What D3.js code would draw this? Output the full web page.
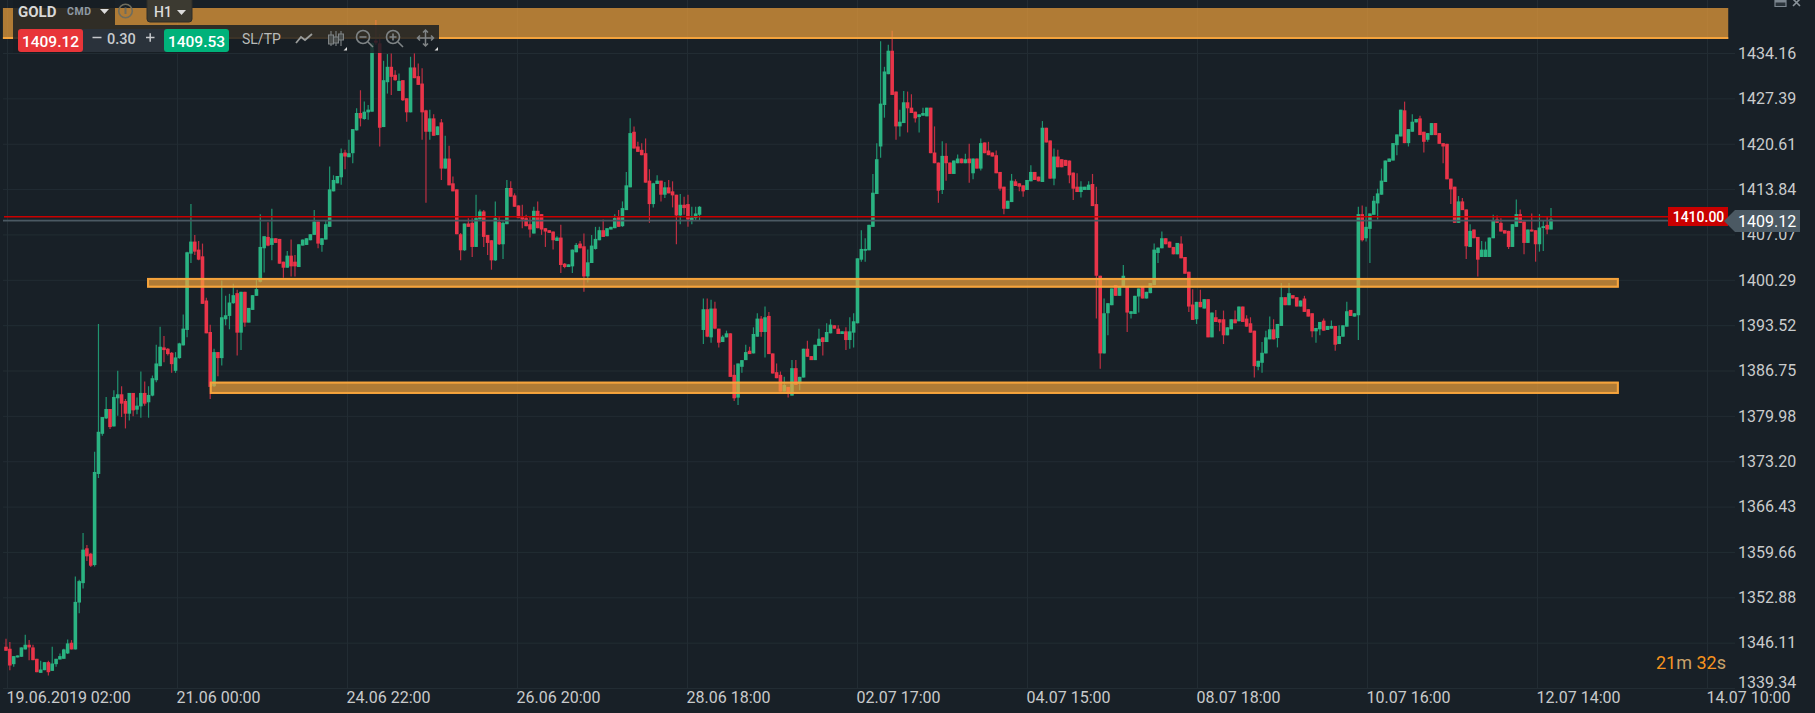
<!DOCTYPE html>
<html>
<head>
<meta charset="utf-8">
<title>GOLD H1</title>
<script src="https://cdn.jsdelivr.net/npm/d3@7/dist/d3.min.js"></script>
<style>
html,body{margin:0;padding:0;background:#182027;overflow:hidden}
svg{display:block;font-family:Roboto,"Liberation Sans",sans-serif}
</style>
</head>
<body>
<div id="chart"></div>
<script>
const priceTicks = [1434.16,1427.39,1420.61,1413.84,1407.07,1400.29,1393.52,1386.75,1379.98,1373.20,1366.43,1359.66,1352.88,1346.11,1339.34];
const timeTicks = ["19.06.2019 02:00","21.06 00:00","24.06 22:00","26.06 20:00","28.06 18:00","02.07 17:00","04.07 15:00","08.07 18:00","10.07 16:00","12.07 14:00","14.07 10:00"];
const opens = [
1345.5,1345.2,1342.9,1343.9,1344.0,1345.1,1345.8,1345.4,1343.7,1341.6,
1342.0,1343.2,1341.9,1342.9,1343.6,1343.7,1344.5,1346.1,1345.1,1352.1,
1355.0,1360.2,1359.4,1357.7,1371.3,1377.3,1379.6,1381.0,1378.4,1382.6,
1383.2,1382.2,1380.3,1383.4,1380.9,1381.4,1383.4,1382.0,1383.0,1385.3,
1387.4,1390.2,1390.0,1389.4,1386.7,1388.6,1390.5,1392.8,1404.2,1406.0,
1404.8,1403.8,1397.2,1392.5,1384.4,1389.5,1388.6,1394.4,1394.9,1396.8,
1398.3,1392.4,1398.5,1393.9,1395.8,1397.9,1400.0,1405.0,1406.7,1405.5,
1406.5,1406.4,1403.0,1402.1,1403.9,1403.0,1402.2,1405.4,1405.5,1406.2,
1407.0,1409.0,1405.5,1406.3,1408.2,1413.5,1414.7,1415.6,1419.3,1418.6,
1419.2,1422.6,1425.2,1424.3,1425.3,1425.4,1436.0,1435.6,1423.1,1429.8,
1432.1,1430.9,1428.5,1430.1,1427.4,1425.3,1432.0,1430.7,1429.6,1425.6,
1422.4,1424.4,1421.9,1423.8,1416.9,1418.4,1414.7,1413.8,1407.1,1404.7,
1408.7,1408.8,1405.2,1409.3,1410.5,1407.0,1406.2,1403.2,1408.9,1405.6,
1408.6,1414.0,1412.9,1411.4,1409.7,1409.5,1408.6,1407.2,1410.6,1410.1,
1408.0,1407.7,1407.5,1406.1,1406.6,1402.7,1402.2,1402.3,1404.4,1405.7,
1405.3,1400.8,1402.8,1404.9,1406.2,1407.7,1406.8,1407.8,1408.0,1409.7,
1408.3,1410.7,1414.1,1422.4,1420.2,1419.7,1419.2,1415.1,1411.6,1414.6,
1415.1,1413.0,1414.1,1413.5,1413.0,1409.9,1411.5,1411.6,1409.2,1409.5,
1410.0,1392.8,1395.9,1391.7,1396.0,1393.0,1391.0,1391.7,1392.3,1386.1,
1382.7,1387.3,1388.3,1389.7,1389.3,1391.8,1394.5,1392.5,1394.9,1389.3,
1386.5,1386.1,1383.6,1384.3,1383.0,1387.1,1384.8,1385.7,1390.0,1388.9,
1388.3,1390.4,1391.7,1391.0,1392.3,1393.5,1393.0,1392.2,1392.6,1391.3,
1392.4,1393.8,1403.3,1404.7,1404.7,1408.2,1413.1,1420.2,1426.4,1431.0,
1434.5,1428.4,1423.2,1423.7,1426.8,1426.0,1425.4,1424.6,1424.8,1424.7,
1426.0,1419.3,1417.8,1413.7,1418.8,1417.8,1416.1,1417.7,1418.4,1417.7,
1418.4,1416.2,1418.4,1416.9,1420.8,1419.6,1419.3,1418.9,1416.4,1414.2,
1410.9,1411.9,1415.0,1414.7,1414.4,1413.7,1415.0,1416.4,1415.7,1414.9,
1423.0,1421.1,1415.4,1418.7,1418.3,1418.2,1418.1,1416.3,1414.2,1413.4,
1413.7,1413.7,1414.6,1411.6,1400.9,1389.3,1395.3,1396.5,1399.5,1397.9,
1399.3,1399.3,1395.2,1395.2,1397.8,1399.3,1397.5,1398.3,1399.5,1404.3,
1405.0,1406.5,1406.0,1405.2,1404.1,1405.7,1403.7,1401.5,1396.6,1394.4,
1397.0,1396.0,1397.4,1391.7,1394.7,1394.4,1394.4,1392.0,1392.9,1394.4,
1394.1,1396.3,1394.5,1393.8,1392.7,1387.3,1387.9,1389.3,1391.4,1392.9,
1391.6,1393.4,1397.7,1396.5,1398.0,1397.7,1396.3,1397.5,1395.9,1395.3,
1392.6,1392.9,1394.2,1392.8,1393.0,1393.4,1390.7,1391.8,1393.3,1395.8,
1394.8,1395.0,1410.1,1406.5,1407.9,1410.0,1411.7,1413.0,1414.9,1417.9,
1418.1,1420.4,1421.7,1425.6,1420.7,1422.4,1423.8,1424.4,1422.4,1421.2,
1421.9,1423.7,1422.2,1420.7,1420.6,1415.4,1414.2,1408.8,1412.0,1410.8,
1405.2,1407.8,1406.7,1403.7,1403.7,1403.7,1406.5,1409.3,1408.8,1407.7,
1407.6,1405.2,1408.2,1410.1,1409.0,1405.8,1407.8,1407.7,1405.6,1408.1,
1408.5,1407.8];
const closes = [
1344.9,1342.7,1344.1,1344.2,1345.4,1345.8,1345.4,1343.5,1341.7,1342.1,
1343.2,1341.7,1343.0,1343.7,1344.1,1345.1,1346.0,1345.1,1352.2,1355.3,
1360.0,1359.0,1357.6,1371.6,1377.6,1379.8,1381.0,1378.3,1382.8,1383.2,
1381.8,1380.3,1383.4,1380.8,1381.5,1383.4,1381.8,1383.1,1385.6,1387.8,
1390.3,1389.8,1389.2,1387.7,1388.7,1390.8,1393.0,1404.4,1406.0,1404.5,
1403.3,1396.7,1392.3,1384.3,1389.5,1388.6,1394.7,1395.0,1396.9,1398.0,
1392.4,1398.5,1393.9,1396.1,1398.0,1398.9,1405.2,1406.8,1405.4,1406.5,
1405.8,1402.7,1402.1,1403.9,1402.3,1402.3,1405.6,1406.3,1406.5,1407.1,
1409.0,1405.7,1406.5,1408.6,1413.8,1415.2,1415.8,1419.2,1418.7,1419.2,
1422.8,1425.2,1424.4,1425.4,1425.7,1435.6,1435.7,1423.0,1430.1,1432.1,
1430.6,1430.1,1430.0,1427.1,1425.3,1432.0,1430.4,1429.4,1425.3,1422.4,
1424.4,1421.8,1423.2,1416.9,1418.4,1414.4,1413.5,1407.1,1404.7,1408.7,
1408.2,1405.2,1409.5,1410.5,1406.7,1405.8,1403.2,1409.5,1405.6,1408.8,
1414.0,1412.7,1411.2,1409.5,1409.3,1408.3,1407.8,1410.6,1408.0,1407.8,
1407.5,1407.3,1406.2,1406.6,1402.5,1402.2,1402.6,1404.8,1405.5,1405.0,
1400.8,1402.9,1405.4,1406.4,1407.7,1406.7,1408.0,1408.2,1409.5,1408.2,
1411.0,1414.4,1422.2,1419.9,1419.4,1418.9,1414.8,1411.6,1414.7,1415.1,
1413.0,1414.1,1413.2,1412.9,1409.9,1411.5,1411.0,1409.3,1409.6,1410.2,
1411.2,1395.9,1391.8,1396.0,1393.0,1390.9,1391.8,1392.3,1385.8,1382.6,
1387.8,1388.3,1389.5,1389.2,1392.2,1394.5,1392.5,1394.7,1389.2,1386.3,
1385.6,1383.6,1384.6,1383.3,1387.1,1384.6,1385.8,1390.0,1388.8,1388.3,
1390.6,1391.5,1391.0,1392.5,1393.6,1393.0,1392.2,1392.6,1391.3,1392.6,
1394.1,1403.5,1404.9,1404.9,1408.5,1413.3,1418.3,1426.6,1431.4,1434.5,
1427.9,1423.2,1423.9,1426.8,1425.9,1425.2,1424.4,1425.0,1425.2,1426.0,
1419.2,1417.7,1413.6,1418.8,1417.7,1416.1,1418.1,1418.4,1417.7,1418.3,
1417.7,1418.4,1416.9,1420.7,1419.2,1418.9,1418.7,1416.2,1413.9,1410.9,
1412.1,1415.1,1414.3,1414.2,1413.5,1415.2,1416.4,1415.2,1415.0,1423.0,
1420.8,1415.4,1418.7,1417.1,1417.1,1417.3,1415.9,1413.9,1413.4,1414.2,
1414.2,1414.5,1411.3,1400.9,1389.3,1395.3,1396.8,1399.0,1397.9,1399.3,
1400.9,1395.4,1395.6,1397.9,1399.0,1397.5,1398.5,1399.8,1404.8,1405.1,
1406.5,1405.6,1405.1,1404.1,1405.8,1403.5,1401.2,1396.3,1394.3,1397.0,
1396.2,1397.4,1391.7,1395.4,1394.0,1393.9,1392.0,1393.2,1394.4,1393.8,
1396.3,1394.0,1393.3,1392.4,1387.4,1388.2,1389.4,1391.7,1392.9,1391.4,
1393.7,1397.7,1396.5,1398.3,1397.5,1396.3,1397.2,1395.5,1394.8,1392.6,
1393.1,1394.0,1392.7,1393.4,1393.4,1390.6,1391.9,1393.5,1395.6,1394.9,
1395.3,1410.1,1406.2,1408.2,1410.2,1412.1,1413.2,1415.1,1418.1,1418.4,
1420.7,1422.0,1425.7,1420.7,1422.8,1423.9,1424.3,1421.9,1420.9,1422.2,
1423.7,1421.9,1420.6,1420.2,1415.3,1413.8,1408.8,1412.0,1410.7,1405.3,
1407.6,1406.5,1403.3,1404.8,1404.8,1406.6,1409.2,1408.8,1407.5,1407.2,
1405.2,1408.6,1410.1,1408.8,1405.8,1407.8,1407.5,1405.6,1408.1,1408.3,
1407.8,1409.3];
const highs = [
1346.7,1346.2,1344.1,1344.2,1345.4,1347.3,1346.5,1345.8,1343.7,1343.4,
1343.2,1343.4,1345.5,1343.7,1344.5,1345.2,1346.6,1346.5,1356.0,1355.5,
1362.5,1360.7,1359.5,1374.6,1393.7,1379.8,1382.8,1381.0,1383.8,1386.7,
1384.4,1382.5,1383.4,1383.4,1382.7,1386.6,1385.1,1384.4,1386.0,1390.6,
1393.3,1391.9,1390.1,1389.5,1389.5,1390.9,1395.1,1404.5,1411.6,1407.0,
1406.1,1405.7,1397.6,1393.6,1390.0,1389.5,1400.2,1397.9,1398.2,1399.7,
1398.8,1398.5,1398.5,1396.1,1398.0,1400.3,1410.1,1406.8,1408.9,1410.9,
1406.5,1406.4,1403.0,1404.6,1406.3,1404.0,1405.6,1406.3,1406.5,1407.1,
1410.7,1409.0,1406.5,1409.2,1417.2,1415.9,1415.8,1419.9,1419.7,1421.2,
1422.8,1425.9,1428.6,1426.9,1426.4,1435.7,1439.1,1437.0,1433.0,1434.0,
1434.1,1431.6,1431.1,1430.1,1427.4,1433.6,1434.1,1432.6,1431.9,1425.7,
1425.7,1425.0,1423.2,1424.3,1421.8,1420.3,1415.7,1413.8,1407.3,1408.7,
1409.5,1409.5,1413.0,1410.8,1410.7,1407.0,1406.2,1412.0,1409.7,1409.0,
1415.2,1415.0,1413.2,1411.4,1411.5,1410.0,1409.7,1411.2,1412.0,1410.1,
1408.0,1407.7,1407.5,1406.8,1408.5,1402.8,1402.6,1404.8,1405.8,1406.1,
1407.2,1404.8,1407.0,1408.2,1408.2,1409.3,1408.0,1408.2,1410.1,1410.7,
1412.0,1416.4,1424.4,1423.2,1420.9,1420.7,1421.4,1416.8,1414.8,1415.9,
1415.1,1414.9,1415.2,1415.0,1413.0,1413.1,1412.7,1413.0,1411.2,1411.2,
1411.3,1397.5,1397.5,1397.3,1397.0,1393.0,1392.0,1392.7,1392.3,1387.6,
1387.8,1388.3,1390.6,1390.3,1393.2,1395.3,1394.9,1396.3,1395.5,1389.3,
1387.8,1386.6,1385.8,1384.3,1388.3,1388.3,1385.8,1390.0,1391.2,1388.9,
1390.6,1393.0,1391.7,1393.8,1394.4,1393.5,1393.5,1392.6,1393.2,1394.7,
1395.3,1403.5,1407.7,1406.5,1408.5,1416.1,1420.7,1435.9,1432.1,1435.4,
1437.5,1428.4,1425.7,1428.5,1428.4,1428.0,1425.4,1425.0,1426.0,1426.0,
1426.0,1423.2,1417.8,1421.0,1420.7,1417.8,1418.1,1419.0,1418.4,1419.1,
1420.6,1418.4,1418.4,1421.4,1420.8,1420.9,1419.3,1419.6,1416.4,1414.2,
1412.1,1416.1,1415.3,1414.7,1414.4,1415.2,1417.4,1416.4,1415.7,1424.0,
1423.0,1421.1,1419.9,1419.7,1418.3,1418.2,1418.1,1416.3,1416.2,1415.0,
1414.2,1415.0,1416.1,1414.2,1400.9,1397.5,1396.8,1399.0,1399.5,1399.3,
1402.5,1399.3,1395.6,1397.9,1399.0,1399.3,1398.5,1399.8,1405.7,1405.1,
1407.5,1406.5,1406.0,1405.2,1405.8,1406.8,1403.7,1401.5,1398.9,1397.0,
1398.8,1397.4,1397.4,1395.4,1395.8,1394.4,1395.7,1393.2,1394.4,1395.7,
1396.3,1396.3,1395.0,1394.7,1392.7,1388.2,1391.0,1392.7,1394.8,1394.4,
1393.7,1399.8,1397.7,1399.8,1398.0,1397.7,1397.2,1397.9,1395.9,1395.3,
1393.1,1394.0,1394.5,1393.4,1394.2,1393.4,1393.5,1393.5,1397.0,1395.8,
1395.3,1411.2,1411.4,1411.2,1410.2,1412.8,1413.9,1416.9,1418.1,1418.4,
1420.7,1422.0,1425.7,1426.9,1422.8,1425.0,1424.3,1424.8,1422.4,1422.2,
1423.7,1423.7,1422.2,1420.7,1420.6,1415.4,1414.2,1412.8,1412.5,1410.8,
1408.6,1407.8,1406.7,1406.1,1406.0,1406.6,1410.0,1409.9,1409.5,1407.7,
1407.6,1408.6,1412.3,1410.8,1409.0,1407.8,1410.2,1407.7,1410.1,1409.2,
1409.7,1411.0];
const lows = [
1344.9,1342.0,1342.5,1343.9,1344.0,1345.1,1343.5,1343.5,1341.7,1341.6,
1342.0,1341.2,1341.9,1342.5,1343.6,1343.7,1344.4,1345.1,1345.1,1350.5,
1354.2,1358.3,1357.4,1357.5,1370.7,1377.0,1379.5,1378.0,1378.4,1380.0,
1379.8,1378.1,1379.3,1379.9,1380.2,1379.7,1381.5,1379.7,1382.9,1385.0,
1387.4,1388.0,1389.0,1386.4,1386.4,1388.5,1390.5,1391.7,1402.8,1404.0,
1403.2,1396.7,1392.3,1382.5,1384.3,1385.9,1387.5,1393.5,1392.9,1396.7,
1389.0,1389.8,1393.3,1393.9,1395.8,1397.9,1399.9,1401.4,1405.3,1403.2,
1405.8,1402.7,1400.6,1402.1,1400.8,1400.8,1402.2,1405.4,1405.5,1406.2,
1407.0,1405.0,1404.5,1406.3,1408.2,1413.5,1414.7,1414.5,1416.8,1418.6,
1417.7,1422.6,1423.2,1424.2,1424.2,1425.4,1435.4,1420.2,1423.1,1428.1,
1427.9,1430.0,1428.5,1427.0,1423.9,1425.3,1430.4,1429.4,1421.2,1411.8,
1421.2,1421.8,1421.9,1415.2,1416.9,1414.4,1413.5,1407.1,1403.2,1404.6,
1408.2,1403.7,1405.2,1409.3,1405.2,1404.0,1401.8,1403.1,1405.5,1403.4,
1408.6,1412.7,1411.2,1409.5,1408.0,1408.3,1406.6,1407.2,1408.0,1407.0,
1405.2,1407.3,1404.8,1406.1,1401.3,1402.0,1402.2,1401.3,1404.4,1405.0,
1398.5,1399.9,1402.8,1404.8,1406.2,1406.7,1406.8,1407.8,1408.0,1408.2,
1408.2,1410.7,1414.1,1419.9,1419.4,1418.9,1414.8,1408.8,1411.1,1414.6,
1412.0,1412.5,1413.2,1411.1,1405.6,1408.6,1410.0,1408.2,1408.6,1409.2,
1409.2,1390.7,1391.7,1390.9,1392.9,1390.2,1391.0,1391.7,1385.8,1382.2,
1381.6,1386.4,1388.3,1389.2,1389.3,1391.8,1391.8,1388.7,1389.2,1386.3,
1385.6,1383.6,1383.6,1382.7,1383.0,1384.6,1383.8,1385.7,1388.8,1388.3,
1388.3,1390.4,1389.0,1391.0,1392.3,1393.0,1392.2,1392.2,1389.8,1390.0,
1390.2,1393.8,1403.0,1403.0,1404.7,1408.2,1413.1,1418.5,1424.5,1431.0,
1427.9,1421.2,1421.7,1423.7,1422.3,1425.2,1423.8,1422.3,1424.8,1424.7,
1419.2,1417.7,1411.8,1413.1,1415.1,1416.1,1416.1,1417.7,1417.7,1417.7,
1414.8,1415.3,1416.9,1416.6,1419.2,1418.9,1418.7,1416.2,1413.6,1410.1,
1410.9,1411.9,1414.3,1413.5,1412.7,1413.7,1415.0,1415.2,1415.0,1414.9,
1420.8,1415.4,1414.4,1417.1,1417.1,1417.3,1414.7,1412.2,1413.4,1412.6,
1413.7,1413.7,1411.3,1394.5,1387.0,1389.3,1392.0,1396.5,1397.9,1397.9,
1399.3,1392.5,1394.5,1395.2,1395.4,1397.5,1397.5,1398.3,1399.5,1402.8,
1405.0,1405.6,1405.1,1404.1,1404.1,1403.5,1401.2,1395.5,1394.3,1393.7,
1396.2,1396.0,1391.7,1391.7,1394.0,1392.6,1390.7,1392.0,1392.9,1393.8,
1394.1,1394.0,1393.3,1392.4,1385.7,1386.8,1386.4,1389.3,1391.4,1391.4,
1390.2,1393.4,1396.5,1396.5,1397.5,1396.3,1396.3,1395.5,1394.8,1391.7,
1390.9,1392.0,1392.7,1392.8,1393.0,1389.7,1390.7,1391.8,1393.3,1394.9,
1394.8,1391.3,1406.0,1406.0,1402.8,1410.0,1409.3,1413.0,1414.9,1417.9,
1418.1,1418.9,1421.7,1420.7,1420.2,1422.4,1423.8,1421.9,1419.3,1420.9,
1421.9,1421.9,1420.6,1417.7,1415.3,1411.6,1408.8,1408.8,1410.7,1403.4,
1405.2,1406.5,1400.8,1403.7,1403.7,1403.7,1406.5,1408.8,1407.5,1407.2,
1404.9,1405.2,1408.2,1408.8,1404.1,1405.8,1407.5,1403.0,1404.5,1404.6,
1407.1,1407.8];
// Supply / demand zones: first bar, last bar, upper price, lower price
const zoneFirstBar = [-0.8, 36.6, 52.9];
const zoneLastBar  = [447, 418.6, 418.6];
const zoneUpper    = [1440.88, 1400.57, 1385.08];
const zoneLower    = [1436.25, 1399.12, 1383.25];
const alertPrice = 1409.71, alertLabel = "1410.00";
const bidPrice = 1409.12, bidLabel = "1409.12", askLabel = "1409.53", spreadLabel = "0.30";

const W = 1815, H = 713;
const svg = d3.select("#chart").append("svg").attr("width", W).attr("height", H);
svg.append("rect").attr("width", W).attr("height", H).attr("fill", "#182027");

const x = d3.scaleLinear().domain([0, opens.length - 1]).range([6, 1551]);
const y = d3.scaleLinear().domain([1434.16, 1339.34]).range([53, 688]);
const t = d3.scalePoint().domain(timeTicks).range([7, 1707]);

// grid + axes
const GRID = "#222c33";
const yAxis = svg.append("g").attr("transform", "translate(1735,0)")
  .call(d3.axisLeft(y).tickValues(priceTicks).tickSize(1732).tickFormat(""));
yAxis.select(".domain").remove();
yAxis.selectAll("line").attr("stroke", GRID).attr("stroke-width", 1);
const xAxis = svg.append("g").attr("transform", "translate(0,688)")
  .call(d3.axisBottom(t).tickSize(-688).tickFormat(""));
xAxis.select(".domain").remove();
xAxis.selectAll("line").attr("stroke", GRID).attr("stroke-width", 1);

// candles
const bars = d3.range(opens.length).map(i => ({i, o: opens[i], h: highs[i], l: lows[i], c: closes[i]}));
const UP = "#2ab382", DOWN = "#e93449", UPW = "#1f9470", DOWNW = "#bd2f42";
const cg = svg.append("g");
cg.selectAll("line").data(bars).join("line")
  .attr("x1", d => x(d.i)).attr("x2", d => x(d.i))
  .attr("y1", d => y(d.h)).attr("y2", d => y(d.l))
  .attr("stroke", d => d.c >= d.o ? UPW : DOWNW).attr("stroke-width", 1.2);
cg.selectAll("rect").data(bars).join("rect")
  .attr("x", d => x(d.i) - 1.8).attr("width", 3.6)
  .attr("y", d => y(Math.max(d.o, d.c)))
  .attr("height", d => Math.max(1.8, Math.abs(y(d.o) - y(d.c))))
  .attr("fill", d => d.c >= d.o ? UP : DOWN);

// level lines
svg.append("line").attr("x1", 4).attr("x2", 1668).attr("y1", y(alertPrice)).attr("y2", y(alertPrice))
  .attr("stroke", "#c90000").attr("stroke-width", 1.5);
svg.append("line").attr("x1", 3).attr("x2", 1726).attr("y1", y(bidPrice)).attr("y2", y(bidPrice))
  .attr("stroke", "#4b5963").attr("stroke-width", 1.8);

// zones
const zones = d3.range(zoneUpper.length).map(i => ({a: zoneFirstBar[i], b: zoneLastBar[i], u: zoneUpper[i], l: zoneLower[i], i}));
const zg = svg.append("g");
zg.selectAll("rect.f").data(zones).join("rect").attr("class", "f")
  .attr("x", d => x(d.a)).attr("width", d => x(d.b) - x(d.a))
  .attr("y", d => y(d.u)).attr("height", d => y(d.l) - y(d.u))
  .attr("fill", "#f5a33c").attr("fill-opacity", .69);
zg.selectAll("rect.s").data(zones.filter(d => d.i > 0)).join("rect").attr("class", "s")
  .attr("x", d => x(d.a) + 1).attr("width", d => x(d.b) - x(d.a) - 2)
  .attr("y", d => y(d.u) + 1).attr("height", d => y(d.l) - y(d.u) - 2)
  .attr("fill", "none").attr("stroke", "#f5a33c").attr("stroke-width", 2);
zg.selectAll("line").data(zones.filter(d => d.i === 0)).join("line")
  .attr("x1", d => x(d.a)).attr("x2", d => x(d.b))
  .attr("y1", d => y(d.l) - 1).attr("y2", d => y(d.l) - 1)
  .attr("stroke", "#f5a33c").attr("stroke-width", 2);

// axis labels
const LABEL = "#c9cbcc";
svg.append("g").selectAll("text").data(priceTicks).join("text")
  .attr("x", 1738).attr("y", (d, i) => y(d) + (i === priceTicks.length - 1 ? -5.5 : 0))
  .attr("dy", "0.36em").attr("font-size", 16).attr("fill", LABEL)
  .text(d => d.toFixed(2));
svg.append("g").selectAll("text").data(timeTicks).join("text")
  .attr("x", d => t(d) - 0.5).attr("y", 697).attr("dy", "0.36em")
  .attr("font-size", 16).attr("fill", LABEL).text(d => d);

// alert + bid tags
svg.append("rect").attr("x", 1668).attr("y", 207).attr("width", 60).attr("height", 19).attr("fill", "#c90000");
svg.append("text").attr("x", 1698.5).attr("y", 216.5).attr("dy", "0.36em").attr("text-anchor", "middle")
  .attr("font-size", 14).attr("font-weight", 500).attr("fill", "#fff").text(alertLabel);
svg.append("path").attr("d", "M1724,221L1735,210H1800V232H1735Z").attr("fill", "#4b5963");
svg.append("text").attr("x", 1738).attr("y", 221).attr("dy", "0.36em")
  .attr("font-size", 16).attr("fill", "#fff").text(bidLabel);

// countdown
const cd = svg.append("text").attr("x", 1656).attr("y", 663).attr("dy", "0.36em").attr("font-size", 18);
[["21", "#f7931e"], ["m ", "#c9a26a"], ["32", "#f7931e"], ["s", "#c9a26a"]].forEach(p => cd.append("tspan").attr("fill", p[1]).text(p[0]));

// window buttons
svg.append("path").attr("d", "M1775,0H1786V6.5H1775Z").attr("fill", "#2a333a").attr("stroke", "#7c868f").attr("stroke-width", 1.2);
svg.append("rect").attr("x", 1775).attr("y", 0).attr("width", 11).attr("height", 2.5).attr("fill", "#7c868f");
svg.append("path").attr("d", "M1793,-1L1800,6M1800,-1L1793,6").attr("stroke", "#8a939a").attr("stroke-width", 1.6).attr("fill", "none");

// toolbar
const tb = svg.append("g");
const PANEL = "rgba(24,30,36,.84)";
tb.append("rect").attr("x", 13).attr("y", 0).attr("width", 102).attr("height", 25).attr("fill", PANEL);
tb.append("rect").attr("x", 13).attr("y", 25).attr("width", 426).attr("height", 28).attr("fill", PANEL);
tb.append("text").attr("x", 18).attr("y", 11.5).attr("dy", "0.36em").attr("font-size", 15).attr("font-weight", 700).attr("fill", "#d8d8d8").text("GOLD");
tb.append("text").attr("x", 67).attr("y", 11).attr("dy", "0.36em").attr("font-size", 10.5).attr("font-weight", 700).attr("letter-spacing", .6).attr("fill", "#8e9aa5").text("CMD");
tb.append("path").attr("d", "M100,9H109L104.5,14Z").attr("fill", "#dcdcdc");
tb.append("circle").attr("cx", 125.5).attr("cy", 11).attr("r", 6.8).attr("fill", "none").attr("stroke", "#6f6d5e").attr("stroke-width", 1.6);
tb.append("path").attr("d", "M125.5,7.5V14").attr("stroke", "#6f6d5e").attr("stroke-width", 2);
tb.append("rect").attr("x", 147).attr("y", -3).attr("width", 45).attr("height", 25).attr("rx", 3).attr("fill", "#3c3a31").attr("stroke", "#2c2c29");
tb.append("text").attr("x", 154).attr("y", 12).attr("dy", "0.36em").attr("font-size", 14).attr("font-weight", 500).attr("fill", "#dcdcdc").text("H1");
tb.append("path").attr("d", "M177,10H186L181.5,15Z").attr("fill", "#dcdcdc");

tb.append("rect").attr("x", 80).attr("y", 29).attr("width", 88).attr("height", 23).attr("fill", "#2a323b");
tb.append("rect").attr("x", 18).attr("y", 29).attr("width", 65).attr("height", 23).attr("rx", 3).attr("fill", "#e83539");
tb.append("rect").attr("x", 164).attr("y", 29).attr("width", 65).attr("height", 23).attr("rx", 3).attr("fill", "#00b27a");
tb.append("text").attr("x", 50.5).attr("y", 41).attr("dy", "0.36em").attr("text-anchor", "middle").attr("font-size", 15.5).attr("font-weight", 500).attr("fill", "#fff").text(bidLabel);
tb.append("text").attr("x", 196.5).attr("y", 41).attr("dy", "0.36em").attr("text-anchor", "middle").attr("font-size", 15.5).attr("font-weight", 500).attr("fill", "#fff").text(askLabel);
tb.append("path").attr("d", "M92.5,37.5H101.5M146,37.5H154.5M150.2,33.2V41.8").attr("stroke", "#c5c8cc").attr("stroke-width", 1.5).attr("fill", "none");
tb.append("text").attr("x", 107).attr("y", 38.5).attr("dy", "0.36em").attr("font-size", 14.5).attr("font-weight", 500).attr("fill", "#c8cbce").text(spreadLabel);
tb.append("text").attr("x", 242).attr("y", 38.5).attr("dy", "0.36em").attr("font-size", 14).attr("fill", "#b9bbb9").text("SL/TP");
const ICON = "#7f8486";
tb.append("path").attr("d", "M296,43L301,37L305,40L312,34").attr("fill", "none").attr("stroke", "#9a9c9a").attr("stroke-width", 1.8);
tb.append("path").attr("d", "M331,31V46M336,31V46M341,31V46").attr("stroke", ICON).attr("stroke-width", 1.1);
tb.selectAll("rect.c").data([[328.5,35,5,9],[333.5,37,5,6],[338.5,34,5,6]]).join("rect").attr("class", "c")
  .attr("x", d => d[0]).attr("y", d => d[1]).attr("width", d => d[2]).attr("height", d => d[3])
  .attr("fill", "#4a4e4d").attr("stroke", ICON).attr("stroke-width", 1);
tb.append("path").attr("d", "M347,47V50.5H343.5Z M438,47V50.5H434.5Z").attr("fill", "#dcdcdc");
[[363, "M359.5,37H366.5"], [393, "M389.5,37H396.5M393,33.5V40.5"]].forEach(d => {
  tb.append("circle").attr("cx", d[0]).attr("cy", 37).attr("r", 6.5).attr("fill", "none").attr("stroke", ICON).attr("stroke-width", 1.6);
  tb.append("path").attr("d", d[1] + `M${d[0] + 5},42L${d[0] + 10},47`).attr("stroke", ICON).attr("stroke-width", 1.6).attr("fill", "none");
});
tb.append("path").attr("d", "M425.5,30V46M417.5,38H433.5M423,32.5L425.5,30L428,32.5M423,43.5L425.5,46L428,43.5M420,35.5L417.5,38L420,40.5M431,35.5L433.5,38L431,40.5")
  .attr("stroke", ICON).attr("stroke-width", 1.5).attr("fill", "none");
</script>
</body>
</html>
